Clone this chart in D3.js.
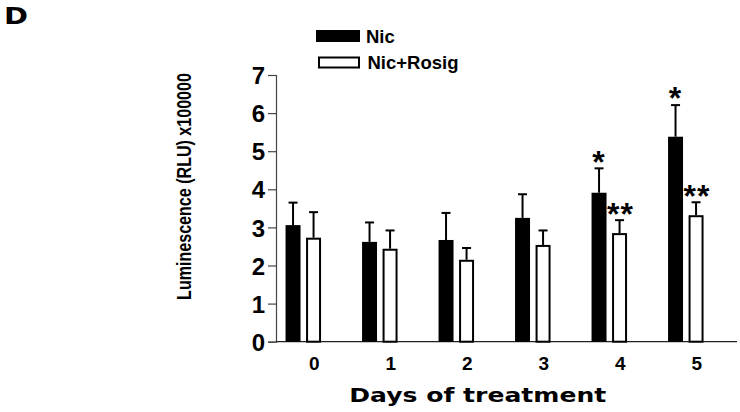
<!DOCTYPE html>
<html>
<head>
<meta charset="utf-8">
<script src="https://cdn.jsdelivr.net/npm/d3@7"></script>
<style>
  body { margin: 0; background: #fff; }
  svg { display: block; }
  .tick text { font-family: "Liberation Sans", Arial, sans-serif; font-weight: bold; fill: #000; }
</style>
</head>
<body>
<div id="chart_container"></div>
<script>
  const days = ['0', '1', '2', '3', '4', '5'];
  const seriesNames = ['Nic', 'Nic+Rosig'];
  const nicMean = [3.06, 2.62, 2.67, 3.25, 3.91, 5.38];
  const nicErr = [0.59, 0.51, 0.71, 0.62, 0.64, 0.83];
  const rosigMean = [2.73, 2.44, 2.15, 2.54, 2.85, 3.32];
  const rosigErr = [0.67, 0.48, 0.31, 0.38, 0.34, 0.34];
  const nicStars = ['', '', '', '', '*', '*'];
  const rosigStars = ['', '', '', '', '**', '**'];
  const yTicks = [0, 1, 2, 3, 4, 5, 6, 7];

  const svg = d3.select('#chart_container').append('svg')
    .attr('width', 740)
    .attr('height', 412);

  const y0 = 341.7, y7 = 75;
  const axisLeftX = 276;

  const xScale = d3.scaleBand()
    .domain(days)
    .range([265.05, 724.05])
    .padding(0);

  const innerScale = d3.scaleBand()
    .domain(seriesNames)
    .range([0, 35.5])
    .paddingInner(0.27);

  const innerOffset = (xScale.bandwidth() - 35.5) / 2;

  const yScale = d3.scaleLinear()
    .domain([0, 7])
    .range([y0, y7]);

  // rows for both series
  const rows = [];
  days.forEach((d, i) => {
    rows.push({ day: d, series: 'Nic', mean: nicMean[i], err: nicErr[i], star: nicStars[i] });
    rows.push({ day: d, series: 'Nic+Rosig', mean: rosigMean[i], err: rosigErr[i], star: rosigStars[i] });
  });
  const barX = (r) => xScale(r.day) + innerOffset + innerScale(r.series);

  // y axis
  const yAxis = svg.append('g')
    .attr('transform', `translate(${axisLeftX}, 0)`)
    .call(d3.axisLeft(yScale).tickValues(yTicks).tickSize(8).tickPadding(3).tickFormat(d3.format('d')));
  yAxis.select('.domain').attr('stroke', '#444').attr('stroke-width', 1.2);
  yAxis.selectAll('.tick line').attr('stroke', '#444').attr('stroke-width', 1.2);
  yAxis.selectAll('.tick text').style('font-size', '24px').attr('dy', '0.36em');

  // x axis baseline
  svg.append('line')
    .attr('x1', axisLeftX)
    .attr('x2', 737)
    .attr('y1', y0)
    .attr('y2', y0)
    .attr('stroke', '#222')
    .attr('stroke-width', 1.3);

  // x tick labels (no tick marks)
  const xAxis = svg.append('g')
    .attr('transform', `translate(11, ${y0})`)
    .call(d3.axisBottom(xScale).tickSize(0).tickPadding(15));
  xAxis.select('.domain').remove();
  xAxis.selectAll('.tick text').style('font-size', '19px').attr('dy', '0.71em');

  // error bars (upward only)
  const errG = svg.append('g').attr('stroke', '#000').attr('stroke-width', 2);
  errG.selectAll('line.stem')
    .data(rows).enter()
    .append('line')
    .attr('class', 'stem')
    .attr('x1', (r) => barX(r) + innerScale.bandwidth() / 2)
    .attr('x2', (r) => barX(r) + innerScale.bandwidth() / 2)
    .attr('y1', (r) => yScale(r.mean))
    .attr('y2', (r) => yScale(r.mean + r.err));
  errG.selectAll('line.cap')
    .data(rows).enter()
    .append('line')
    .attr('class', 'cap')
    .attr('x1', (r) => barX(r) + innerScale.bandwidth() / 2 - 4.5)
    .attr('x2', (r) => barX(r) + innerScale.bandwidth() / 2 + 4.5)
    .attr('y1', (r) => yScale(r.mean + r.err))
    .attr('y2', (r) => yScale(r.mean + r.err));

  // bars
  svg.selectAll('rect.bar')
    .data(rows).enter()
    .append('rect')
    .attr('class', 'bar')
    .attr('x', (r) => r.series === 'Nic' ? barX(r) : barX(r) + 1)
    .attr('y', (r) => yScale(r.mean) + (r.series === 'Nic' ? 0 : 1))
    .attr('width', (r) => r.series === 'Nic' ? innerScale.bandwidth() : innerScale.bandwidth() - 2)
    .attr('height', (r) => y0 - yScale(r.mean) - (r.series === 'Nic' ? 0 : 1))
    .attr('fill', (r) => r.series === 'Nic' ? '#000' : '#fff')
    .attr('stroke', '#000')
    .attr('stroke-width', (r) => r.series === 'Nic' ? 0 : 2);

  // significance stars
  const starSize = 32;
  svg.selectAll('text.star')
    .data(rows.filter((r) => r.star !== '')).enter()
    .append('text')
    .attr('class', 'star')
    .attr('x', (r) => barX(r) + innerScale.bandwidth() / 2 + (r.star.length > 1 ? 1 : 0))
    .attr('y', (r) => yScale(r.mean + r.err) - 14 + 0.575 * starSize)
    .attr('text-anchor', 'middle')
    .style('font-family', '"Liberation Sans", Arial, sans-serif')
    .style('font-weight', 'bold')
    .style('font-size', starSize + 'px')
    .style('letter-spacing', '1px')
    .text((r) => r.star);

  // axis titles
  const yTitle = svg.append('text')
    .attr('text-anchor', 'middle')
    .style('font-family', '"Liberation Sans", Arial, sans-serif')
    .style('font-weight', 'bold')
    .style('font-size', '21px')
    .text('Luminescence (RLU) x100000');
  const naturalLen = yTitle.node().getComputedTextLength();
  yTitle.attr('transform', `translate(191, 186.5) rotate(-90) scale(${227 / naturalLen}, 1)`);

  svg.append('text')
    .attr('x', 349.3)
    .attr('y', 402)
    .attr('textLength', 257)
    .attr('lengthAdjust', 'spacingAndGlyphs')
    .style('font-family', '"DejaVu Sans", sans-serif')
    .style('font-weight', 'bold')
    .style('font-size', '20px')
    .text('Days of treatment');

  // panel letter
  svg.append('text')
    .attr('x', 4)
    .attr('y', 24)
    .attr('textLength', 24)
    .attr('lengthAdjust', 'spacingAndGlyphs')
    .style('font-family', '"DejaVu Sans", sans-serif')
    .style('font-weight', 'bold')
    .style('font-size', '23px')
    .text('D');

  // legend
  const legend = svg.append('g');
  legend.append('rect')
    .attr('x', 316).attr('y', 30).attr('width', 44).attr('height', 12)
    .attr('fill', '#000');
  legend.append('rect')
    .attr('x', 319).attr('y', 57.5).attr('width', 40).attr('height', 10)
    .attr('fill', '#fff').attr('stroke', '#000').attr('stroke-width', 2);
  legend.selectAll('text')
    .data(seriesNames).enter()
    .append('text')
    .attr('x', (d, i) => i === 0 ? 366 : 367.5)
    .attr('y', (d, i) => i === 0 ? 42.7 : 68.5)
    .style('font-family', '"Liberation Sans", Arial, sans-serif')
    .style('font-weight', 'bold')
    .style('font-size', '18.5px')
    .text((d) => d);
</script>
</body>
</html>
